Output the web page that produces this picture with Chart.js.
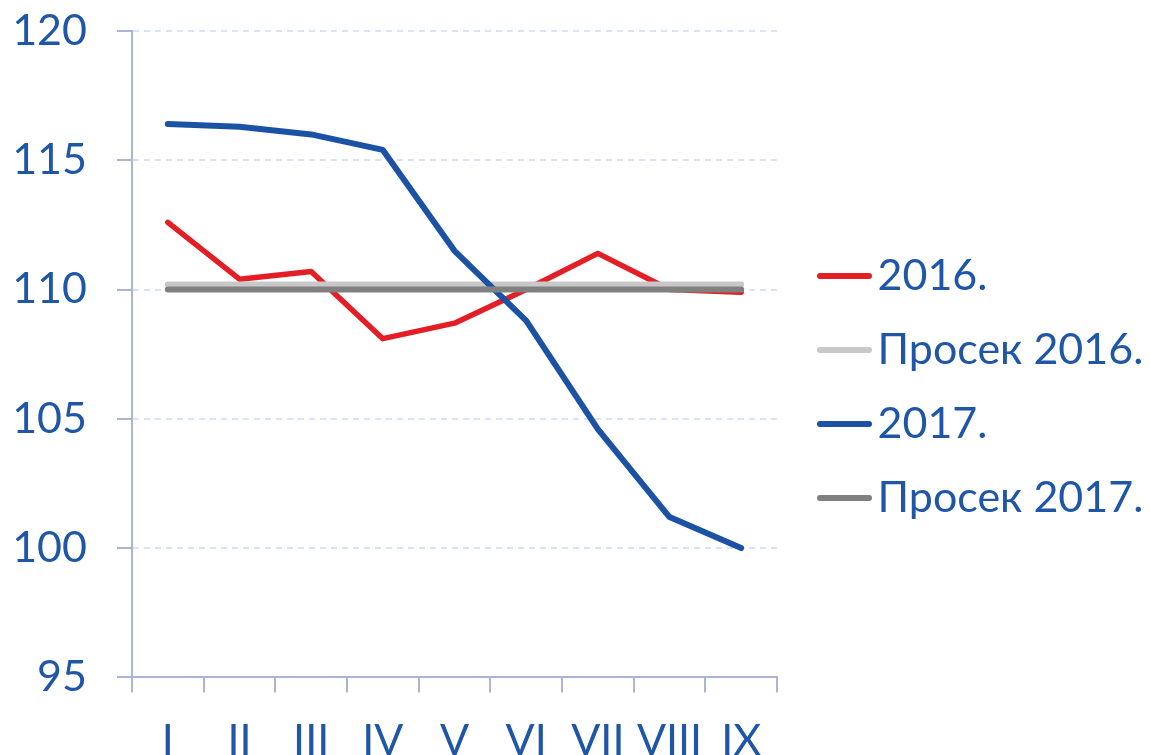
<!DOCTYPE html>
<html>
<head>
<meta charset="utf-8">
<script src="https://cdn.jsdelivr.net/npm/chart.js@4.4.1/dist/chart.umd.min.js"></script>
<style>
  html, body { margin: 0; padding: 0; background: #fff; overflow: hidden; }
  #wrap { width: 1150px; height: 790px; position: relative; }
</style>
</head>
<body>
<div id="wrap"><canvas id="chart"></canvas></div>
<script>
// months
const months = ['I', 'II', 'III', 'IV', 'V', 'VI', 'VII', 'VIII', 'IX'];

// series
const values2016 = [112.6, 110.4, 110.7, 108.1, 108.7, 110.0, 111.4, 110.0, 109.9];
const values2017 = [116.4, 116.3, 116.0, 115.4, 111.5, 108.8, 104.6, 101.2, 100.0];
const average2016 = [110.2, 110.2, 110.2, 110.2, 110.2, 110.2, 110.2, 110.2, 110.2];
const average2017 = [110.0, 110.0, 110.0, 110.0, 110.0, 110.0, 110.0, 110.0, 110.0];

// y axis ticks
const yTicks = [95, 100, 105, 110, 115, 120];

const textBlue = '#1F56A6';
const axisColor = '#AAB5D6';
const font = { family: "Lato, 'Open Sans', sans-serif", size: 43 };

function lineSet(label, data, color, width, order) {
    return {
        label: label,
        data: data,
        borderColor: color,
        backgroundColor: color,
        borderWidth: width,
        pointRadius: 0,
        pointHoverRadius: 0,
        tension: 0,
        borderCapStyle: 'round',
        borderJoinStyle: 'round',
        order: order
    };
}

// legend samples: longer line than the box Chart.js leaves room for
const legendLines = {
    id: 'legendLines',
    afterDraw(chart) {
        const legend = chart.legend;
        if (!legend || !legend.legendHitBoxes) return;
        const ctx = chart.ctx;
        legend.legendItems.forEach((item, i) => {
            const box = legend.legendHitBoxes[i];
            const y = box.top + box.height / 2;
            ctx.save();
            ctx.strokeStyle = chart.data.datasets[item.datasetIndex].borderColor;
            ctx.lineWidth = 6;
            ctx.lineCap = 'round';
            ctx.beginPath();
            ctx.moveTo(box.left + 12, y);
            ctx.lineTo(box.left + 61, y);
            ctx.stroke();
            ctx.restore();
        });
    }
};

new Chart(document.getElementById('chart'), {
    type: 'line',
    data: {
        labels: months,
        datasets: [
            lineSet('2016.', values2016, '#E31E25', 5.5, 4),
            lineSet('Просек 2016.', average2016, '#C8C8C8', 6, 3),
            lineSet('2017.', values2017, '#1B52A4', 6, 2),
            lineSet('Просек 2017.', average2017, '#808080', 6, 1)
        ]
    },
    plugins: [legendLines],
    options: {
        responsive: true,
        maintainAspectRatio: false,
        animation: false,
        layout: { padding: { top: -16, left: 0, right: 0, bottom: 0 } },
        plugins: {
            tooltip: { enabled: false },
            legend: {
                position: 'right',
                maxWidth: 373,
                labels: {
                    color: textBlue,
                    font: font,
                    boxWidth: 48,
                    boxHeight: 6,
                    padding: 31,
                    sort: (a, b) => a.datasetIndex - b.datasetIndex,
                    generateLabels: (chart) => Chart.defaults.plugins.legend.labels.generateLabels(chart)
                        .map(item => Object.assign(item, { lineWidth: 0, fillStyle: 'rgba(0,0,0,0)' }))
                }
            }
        },
        scales: {
            x: {
                offset: true,
                grid: {
                    offset: true,
                    drawOnChartArea: false,
                    drawTicks: true,
                    tickLength: 15,
                    color: axisColor,
                    lineWidth: 2
                },
                border: { color: axisColor, width: 2 },
                ticks: { color: textBlue, font: font, padding: 23, maxRotation: 0, autoSkip: false }
            },
            y: {
                min: 95,
                max: 120,
                afterFit: (axis) => {
                    axis.width = 132;
                    axis.paddingTop = 31;
                    axis.paddingBottom = 0;
                },
                afterBuildTicks: (axis) => { axis.ticks = yTicks.map(v => ({ value: v })); },
                grid: {
                    color: '#D6E4F7',
                    lineWidth: 2,
                    tickColor: axisColor,
                    tickLength: 15,
                    tickWidth: 2
                },
                border: { color: axisColor, width: 2, dash: [6, 5] },
                ticks: { color: textBlue, font: font, padding: 30 }
            }
        }
    }
});
</script>
</body>
</html>
